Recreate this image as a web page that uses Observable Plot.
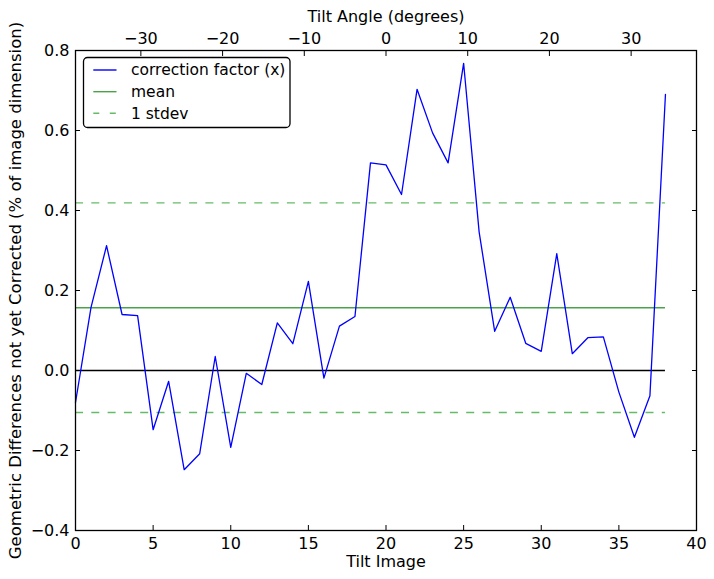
<!DOCTYPE html>
<html>
<head>
<meta charset="utf-8">
<script src="https://cdn.jsdelivr.net/npm/d3@7"></script>
<script src="https://cdn.jsdelivr.net/npm/@observablehq/plot@0.6"></script>
<style>
  body { margin: 0; background: #fff; }
  svg { font-family: "DejaVu Sans", sans-serif; }
</style>
</head>
<body>
<div id="chart"></div>
<script>
// ---- data ----
const tiltImage = [0,1,2,3,4,5,6,7,8,9,10,11,12,13,14,15,16,17,18,19,20,21,22,23,24,25,26,27,28,29,30,31,32,33,34,35,36,37,38];
const correctionX = [-0.08, 0.158, 0.312, 0.14, 0.137, -0.148, -0.027, -0.248, -0.208, 0.035,
  -0.192, -0.007, -0.035, 0.119, 0.067, 0.223, -0.019, 0.111, 0.135, 0.519,
  0.514, 0.44, 0.703, 0.594, 0.519, 0.768, 0.346, 0.098, 0.183, 0.068,
  0.048, 0.292, 0.042, 0.082, 0.084, -0.054, -0.167, -0.063, 0.69];
const meanValue = 0.157;
const stdevValue = 0.262;
const xTicks = [0, 5, 10, 15, 20, 25, 30, 35, 40];
const yTicks = [-0.4, -0.2, 0.0, 0.2, 0.4, 0.6, 0.8];
const angleTicks = [-30, -20, -10, 0, 10, 20, 30];
const angleDomain = [-38, 38];
const xDomain = [0, 40];
const yDomain = [-0.4, 0.8];
const legendLabels = ["correction factor (x)", "mean", "1 stdev"];

// ---- derived ----
const data = tiltImage.map((t, i) => ({image: t, value: correctionX[i]}));
const firstImage = tiltImage[0];
const lastImage = tiltImage[tiltImage.length - 1];
const angleToImage = a => xDomain[0] + (a - angleDomain[0]) / (angleDomain[1] - angleDomain[0]) * (xDomain[1] - xDomain[0]);
const imageToAngle = x => angleDomain[0] + (x - xDomain[0]) / (xDomain[1] - xDomain[0]) * (angleDomain[1] - angleDomain[0]);
const fmtInt = d3.format("d");
const fmtY = d3.format(".1f");

const blue = "#0000ff";
const green = "#4aa34a";
const lightGreen = "#66bb66";
const dash = "8,8.3";

const chart = Plot.plot({
  width: 714,
  height: 579,
  marginLeft: 75,
  marginRight: 18,
  marginTop: 50,
  marginBottom: 49,
  style: {fontFamily: "DejaVu Sans, sans-serif", fontSize: "16px", background: "white", color: "black"},
  x: {domain: xDomain},
  y: {domain: yDomain},
  marks: [
    Plot.ruleY([0], {x1: firstImage, x2: lastImage, stroke: "black", strokeWidth: 1.4}),
    Plot.ruleY([meanValue], {x1: firstImage, x2: lastImage, stroke: green, strokeWidth: 1.4}),
    Plot.ruleY([meanValue + stdevValue, meanValue - stdevValue], {x1: firstImage, x2: lastImage, stroke: lightGreen, strokeWidth: 1.4, strokeDasharray: dash}),
    Plot.line(data, {x: "image", y: "value", stroke: blue, strokeWidth: 1.3}),
    Plot.frame({stroke: "black", strokeWidth: 1.3}),
    Plot.axisX({anchor: "bottom", ticks: xTicks, tickFormat: fmtInt, tickSize: -5, tickPadding: 12, fontSize: 16, label: null}),
    Plot.axisX({anchor: "top", ticks: angleTicks.map(angleToImage), tickFormat: x => fmtInt(Math.round(imageToAngle(x))), tickSize: -5, tickPadding: 12, fontSize: 16, label: null}),
    Plot.axisY({anchor: "left", ticks: yTicks, tickFormat: fmtY, tickSize: -5, tickPadding: 11, fontSize: 16, label: null}),
    Plot.axisY({anchor: "right", ticks: yTicks, tickFormat: () => "", tickSize: -5, label: null}),
    Plot.text(["Tilt Image"], {frameAnchor: "bottom", dy: 31, lineAnchor: "middle", textAnchor: "middle", fontSize: 16}),
    Plot.text(["Tilt Angle (degrees)"], {frameAnchor: "top", dy: -34, lineAnchor: "middle", textAnchor: "middle", fontSize: 16}),
    Plot.text(["Geometric Differences not yet Corrected (% of image dimension)"], {frameAnchor: "left", dx: -60, rotate: -90, lineAnchor: "middle", textAnchor: "middle", fontSize: 16.5})
  ]
});

document.getElementById("chart").appendChild(chart);

// ---- legend (inside plot, upper left) ----
const svg = d3.select(chart);
const lg = svg.append("g").attr("class", "legend").attr("text-anchor", "start");
lg.append("rect")
  .attr("x", 83.5).attr("y", 57.5).attr("width", 206.5).attr("height", 70)
  .attr("rx", 4).attr("fill", "white").attr("stroke", "black").attr("stroke-width", 1.3);
const legendStyles = [
  {stroke: blue, dash: null},
  {stroke: green, dash: null},
  {stroke: lightGreen, dash: dash}
];
const rowY = [70, 91.7, 113.3];
legendLabels.forEach((label, i) => {
  const s = legendStyles[i];
  const l = lg.append("line")
    .attr("x1", 93.3).attr("x2", 116.5).attr("y1", rowY[i]).attr("y2", rowY[i])
    .attr("stroke", s.stroke).attr("stroke-width", 1.4);
  if (s.dash) l.attr("stroke-dasharray", "6,10.5");
  lg.append("text")
    .attr("x", 131).attr("y", rowY[i]).attr("dy", "0.35em")
    .attr("text-anchor", "start")
    .attr("font-size", 15.5).attr("fill", "black")
    .text(label);
});
</script>
</body>
</html>
